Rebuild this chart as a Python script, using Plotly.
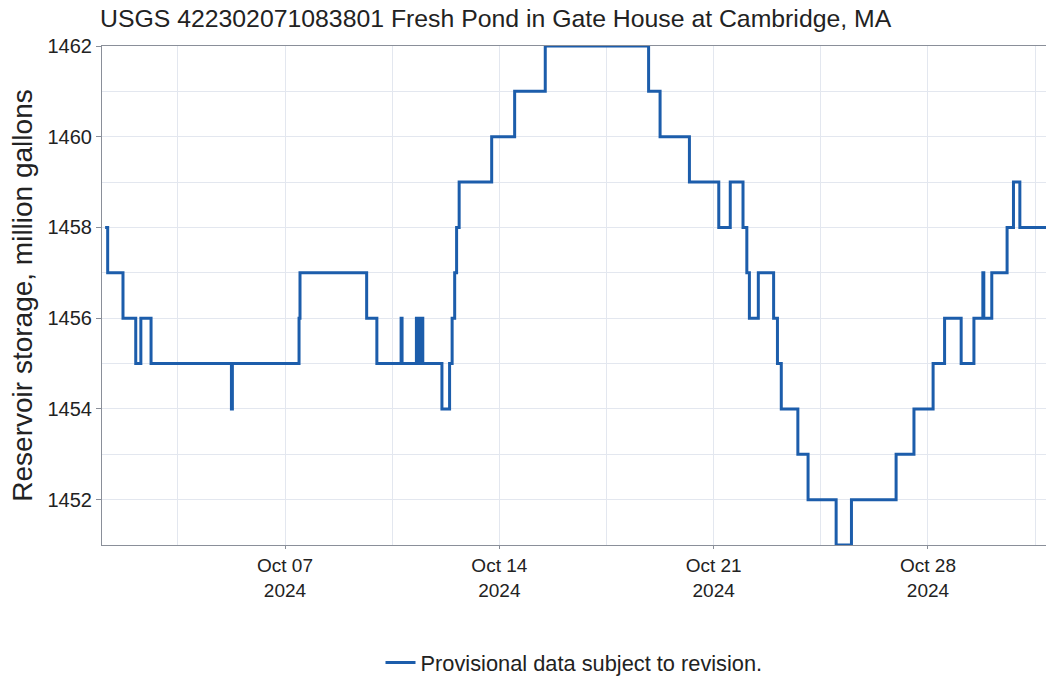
import plotly.graph_objects as go


# ---------------------------------------------------
# Data: change points of the stepped gauge record
# ---------------------------------------------------

times = [
    "2024-10-01 03:00", "2024-10-01 05:00", "2024-10-01 17:00", "2024-10-02 03:00",
    "2024-10-02 07:00", "2024-10-02 15:00", "2024-10-05 06:00", "2024-10-05 06:45",
    "2024-10-07 11:00", "2024-10-07 11:45", "2024-10-09 16:00", "2024-10-10 00:00",
    "2024-10-10 19:00", "2024-10-10 19:45", "2024-10-11 07:00", "2024-10-11 09:00",
    "2024-10-11 09:45", "2024-10-11 12:00", "2024-10-12 03:00", "2024-10-12 09:00",
    "2024-10-12 11:00", "2024-10-12 13:00", "2024-10-12 14:30", "2024-10-12 16:30",
    "2024-10-13 18:00", "2024-10-14 12:00", "2024-10-15 12:00", "2024-10-18 21:00",
    "2024-10-19 06:00", "2024-10-20 05:00", "2024-10-21 04:00", "2024-10-21 13:00",
    "2024-10-21 23:00", "2024-10-22 02:00", "2024-10-22 04:00", "2024-10-22 11:00",
    "2024-10-22 23:00", "2024-10-23 02:00", "2024-10-23 05:00", "2024-10-23 18:00",
    "2024-10-24 02:00", "2024-10-25 00:00", "2024-10-25 12:00", "2024-10-26 23:00",
    "2024-10-27 13:00", "2024-10-28 04:00", "2024-10-28 13:00", "2024-10-29 02:00",
    "2024-10-29 12:00", "2024-10-29 19:00", "2024-10-29 19:45", "2024-10-30 02:00",
    "2024-10-30 14:00", "2024-10-30 19:00", "2024-10-31 00:00", "2024-10-31 23:45",
]

storage = [
    1458, 1457, 1456, 1455,
    1456, 1455, 1454, 1455,
    1456, 1457, 1456, 1455,
    1456, 1455, 1456, 1455,
    1456, 1455, 1454, 1455,
    1456, 1457, 1458, 1459,
    1460, 1461, 1462, 1461,
    1460, 1459, 1458, 1459,
    1458, 1457, 1456, 1457,
    1456, 1455, 1454, 1453,
    1452, 1451, 1452, 1453,
    1454, 1455, 1456, 1455,
    1456, 1457, 1456, 1457,
    1458, 1459, 1458, 1458,
]

title = "USGS 422302071083801 Fresh Pond in Gate House at Cambridge, MA"
y_label = "Reservoir storage, million gallons"
series_name = "Provisional data subject to revision."

line_color = "#1c5dab"
grid_color = "#e3e7ef"
axis_color = "#8a8f99"
font_family = "Liberation Sans, Arial, sans-serif"

fig_w, fig_h = 1046, 677


fig = go.Figure()

fig.add_trace(
    go.Scatter(
        x=times,
        y=storage,
        mode="lines",
        name=series_name,
        line=dict(color=line_color, width=3, shape="hv"),
    )
)

fig.update_layout(
    width=fig_w,
    height=fig_h,
    template="plotly_white",
    plot_bgcolor="white",
    paper_bgcolor="white",
    font=dict(family=font_family, size=20, color="#222222"),
    margin=dict(l=102, r=0, t=46, b=132, autoexpand=False),
    title=dict(
        text=title,
        x=100 / fig_w,
        xref="container",
        xanchor="left",
        y=1 - 18 / fig_h,
        yref="container",
        yanchor="middle",
        font=dict(size=24.8, color="#222222"),
    ),
    showlegend=True,
    legend=dict(
        orientation="h",
        x=0.5,
        xanchor="center",
        y=-0.236,
        yanchor="middle",
        font=dict(size=21.8),
    ),
)

fig.update_xaxes(
    automargin=False,
    range=["2024-10-01 00:33", "2024-10-31 20:30"],
    tick0="2024-10-07",
    dtick=7 * 24 * 3600 * 1000,
    tickformat="%b %d<br>%Y",
    tickfont=dict(size=19),
    ticks="outside",
    ticklen=3,
    tickcolor=axis_color,
    showline=True,
    linecolor=axis_color,
    linewidth=1,
    mirror=True,
    showgrid=True,
    gridcolor=grid_color,
    zeroline=False,
    minor=dict(
        tick0="2024-10-07",
        dtick=3.5 * 24 * 3600 * 1000,
        showgrid=True,
        gridcolor=grid_color,
    ),
)

fig.update_yaxes(
    automargin=False,
    title=dict(text=y_label, font=dict(size=28), standoff=6),
    range=[1451, 1462],
    tick0=1452,
    dtick=2,
    ticks="outside",
    ticklen=5,
    tickcolor=axis_color,
    showline=True,
    linecolor=axis_color,
    linewidth=1,
    mirror=True,
    showgrid=True,
    gridcolor=grid_color,
    zeroline=False,
    minor=dict(dtick=1, showgrid=True, gridcolor=grid_color),
)

# drop the default page margin so the figure sits at the window corner
fig.write_html(
    "out.html",
    config={"displayModeBar": False},
    post_script="document.body.style.margin = '0';",
)
